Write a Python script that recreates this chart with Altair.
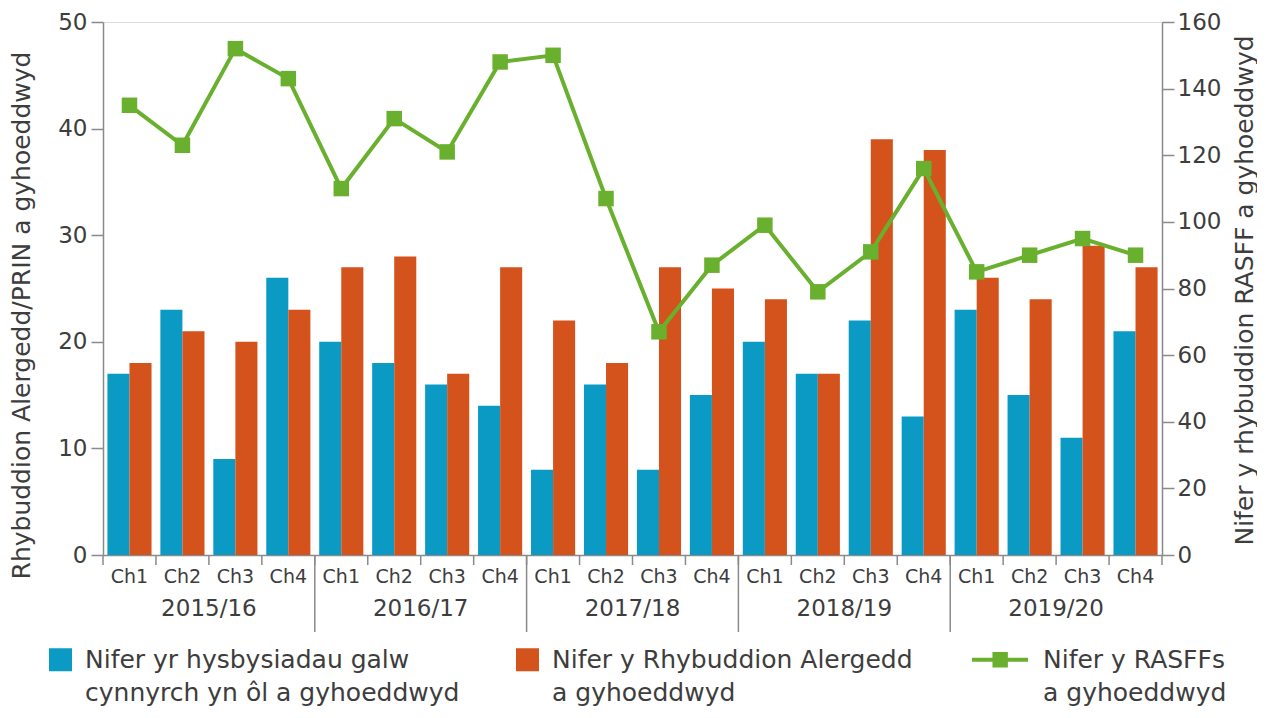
import altair as alt
import pandas as pd

years = ["2015/16", "2016/17", "2017/18", "2018/19", "2019/20"]
quarters = ["Ch1", "Ch2", "Ch3", "Ch4"]
recalls = [17, 23, 9, 26, 20, 18, 16, 14, 8, 16, 8, 15, 20, 17, 22, 13, 23, 15, 11, 21]
allergy = [18, 21, 20, 23, 27, 28, 17, 27, 22, 18, 27, 25, 24, 17, 39, 38, 26, 24, 29, 27]
rasff = [135, 123, 152, 143, 110, 131, 121, 148, 150, 107, 67, 87, 99, 79, 91, 116, 85, 90, 95, 90]

lab_blue = "Nifer yr hysbysiadau galw|cynnyrch yn ôl a gyhoeddwyd"
lab_orange = "Nifer y Rhybuddion Alergedd|a gyhoeddwyd"
lab_green = "Nifer y RASFFs|a gyhoeddwyd"
labels = [lab_blue, lab_orange, lab_green]
colors = ["#0b9ac4", "#d4521b", "#6ab02f"]

left_title = "Rhybuddion Alergedd/PRIN a gyhoeddwyd"
right_title = "Nifer y rhybuddion RASFF a gyhoeddwyd"

keys, yr_col, q_col = [], [], []
for y in years:
    for q in quarters:
        keys.append(y + "|" + q)
        yr_col.append(y)
        q_col.append(q)

wide = pd.DataFrame({"key": keys, "year": yr_col, "quarter": q_col,
                     "recalls": recalls, "allergy": allergy, "rasff": rasff})
bars_df = pd.concat([
    pd.DataFrame({"key": keys, "label": lab_blue, "value": recalls}),
    pd.DataFrame({"key": keys, "label": lab_orange, "value": allergy}),
])
year_df = pd.DataFrame({"key": [y + "|Ch2" for y in years], "year": years})
sep_df = pd.DataFrame({"key": [y + "|Ch1" for y in years[1:]]})
legend_df = pd.DataFrame({"label": labels})

W, H = 1059, 533
FONT = "DejaVu Sans"
TXT = "#3d3d3d"
AX = "#8a8a8a"

fill_scale = alt.Scale(domain=labels, range=colors)
shape_scale = alt.Scale(domain=labels, range=[
    "square",
    "square",
    "M-4.9,0H1M-2.53,-0.6H-1.33V0.6H-2.53Z",
])

x_axis = alt.Axis(labelExpr="split(datum.value, '|')[1]", labelAngle=0, ticks=False,
                  labelFontSize=19, labelPadding=12, labelColor=TXT, domainColor=AX,
                  domainWidth=1.5, labelFont=FONT, labelOverlap=False, title=None)
xkey = dict(sort=keys, scale=alt.Scale(paddingInner=0, paddingOuter=0), axis=x_axis,
            title=None)

bars = alt.Chart(bars_df).mark_bar().encode(
    x=alt.X("key:N", **xkey),
    xOffset=alt.XOffset("label:N", sort=[lab_blue, lab_orange],
                        scale=alt.Scale(paddingOuter=0.2, paddingInner=0)),
    y=alt.Y("value:Q", scale=alt.Scale(domain=[0, 50]),
            axis=alt.Axis(values=[0, 10, 20, 30, 40, 50], grid=False, tickSize=12,
                          tickColor=AX, domainColor=AX, domainWidth=1.5, tickWidth=1.5,
                          labelFontSize=23, labelColor=TXT, labelPadding=4, labelFont=FONT,
                          title=left_title, titleFontSize=25, titleFontWeight="normal",
                          titleColor=TXT, titleFont=FONT, titleAngle=270,
                          titleX=-82, titleY=293, titleAlign="center",
                          titleBaseline="middle")),
    fill=alt.Fill("label:N", scale=fill_scale, title=None),
)

line = alt.Chart(wide).mark_line(color=colors[2], strokeWidth=4,
                                 point=alt.OverlayMarkDef(shape="square", size=240,
                                                          filled=True, color=colors[2],
                                                          opacity=1)).encode(
    x=alt.X("key:N", **xkey),
    y=alt.Y("rasff:Q", scale=alt.Scale(domain=[0, 160]),
            axis=alt.Axis(orient="right", values=list(range(0, 161, 20)), grid=False,
                          tickSize=12, tickColor=AX, domainColor=AX, domainWidth=1.5,
                          tickWidth=1.5, labelFontSize=23, labelColor=TXT, labelPadding=3,
                          labelFont=FONT, title=right_title, titleFontSize=25,
                          titleFontWeight="normal", titleColor=TXT, titleFont=FONT,
                          titleAngle=270, titleX=82, titleY=268, titleAlign="center",
                          titleBaseline="middle")),
)

qticks = alt.Chart(wide).mark_rule(color=AX, strokeWidth=1.5).encode(
    x=alt.X("key:N", bandPosition=0, **xkey),
    y=alt.value(H), y2=alt.value(H + 10),
)
endtick = alt.Chart(wide.tail(1)).mark_rule(color=AX, strokeWidth=1.5).encode(
    x=alt.X("key:N", bandPosition=1, **xkey),
    y=alt.value(H), y2=alt.value(H + 10),
)
seps = alt.Chart(sep_df).mark_rule(color=AX, strokeWidth=1.5).encode(
    x=alt.X("key:N", bandPosition=0, **xkey),
    y=alt.value(H), y2=alt.value(H + 77),
)
year_txt = alt.Chart(year_df).mark_text(fontSize=23, color=TXT, font=FONT,
                                        baseline="middle").encode(
    x=alt.X("key:N", bandPosition=1, **xkey),
    y=alt.value(H + 54),
    text="year:N",
)

legend_layer = alt.Chart(legend_df).mark_point(filled=True, opacity=0).encode(
    fill=alt.Fill("label:N", scale=fill_scale, title=None),
    stroke=alt.Stroke("label:N", scale=fill_scale, title=None),
    shape=alt.Shape("label:N", scale=shape_scale, title=None,
                    legend=alt.Legend(orient="none", legendX=-55, legendY=625,
                                      direction="horizontal", columns=3,
                                      columnPadding=50, symbolSize=361,
                                      symbolStrokeWidth=4, symbolOpacity=1,
                                      labelExpr="split(datum.label, '|')",
                                      labelFontSize=25, labelColor=TXT, labelFont=FONT,
                                      labelLimit=600, labelOffset=12,
                                      labelBaseline="middle")),
)

chart = alt.layer(bars, qticks, endtick, seps, year_txt, line, legend_layer).resolve_scale(
    y="independent"
).properties(
    width=W, height=H,
    padding={"left": 95, "top": 14, "right": 95, "bottom": 160},
    autosize=alt.AutoSizeParams(type="none"),
).configure_view(stroke=None).configure(
    style={"guide-label": {"lineHeight": 33}}
)

chart.save("out.html", embed_options={"renderer": "svg", "actions": False})
